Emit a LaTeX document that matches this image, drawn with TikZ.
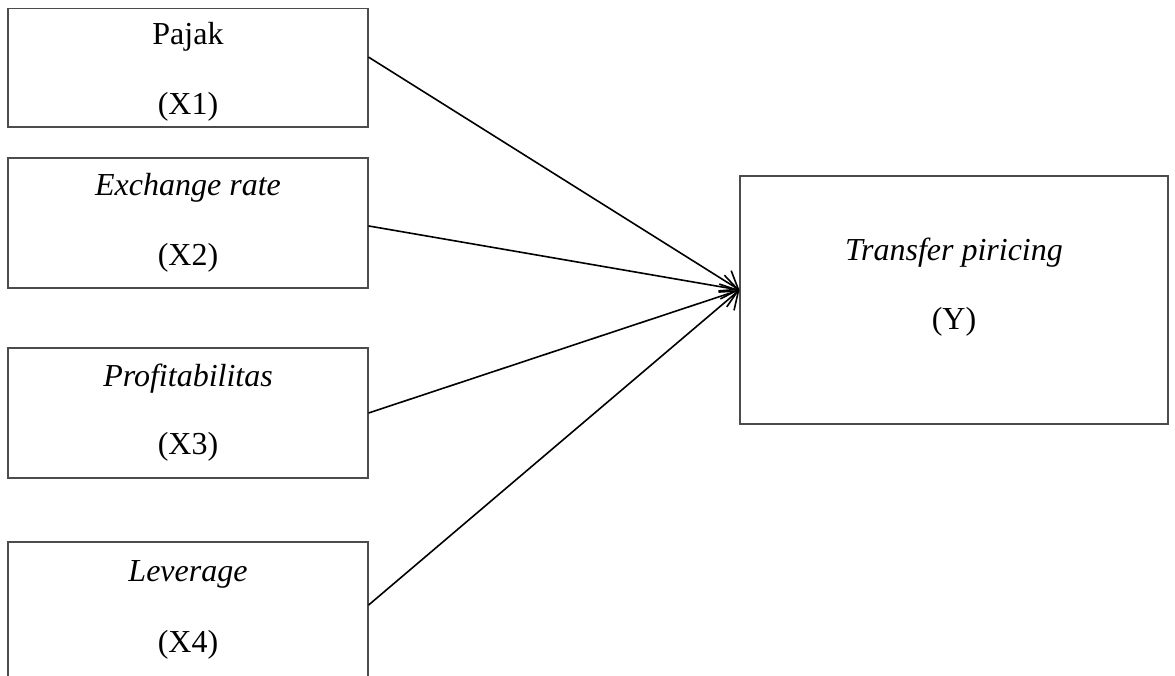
\documentclass[tikz,border=0pt]{standalone}
\usepackage{fontspec}
\setmainfont{Liberation Serif}
\usetikzlibrary{arrows.meta}
\tikzset{>={Straight Barb[length=6pt,width=9pt]}}
\tikzstyle{var box}=[draw=black!70,line width=0.4pt,rectangle,inner sep=0pt,minimum width=135pt]
\tikzstyle{var text}=[font=\fontsize{12}{14}\selectfont,inner sep=0pt]
\tikzstyle{path}=[->,line width=0.6pt,black]

\begin{document}
\begin{tikzpicture}[x=0.375pt,y=-0.375pt]
  \useasboundingbox (0,0) rectangle (1175,675);
  % independent variables
  \node[var box,minimum height=44.6pt] (x1) at (188,67.5) {};
  \node[var box,minimum height=48.75pt] (x2) at (188,223) {};
  \node[var box,minimum height=48.75pt] (x3) at (188,413) {};
  \node[var box,minimum height=52.5pt] (x4) at (188,612) {};
  \node[var text] (x1-name) at (188,37) {Pajak};
  \node[var text] (x1-code) at (188,107) {(X1)};
  \node[var text] (x2-name) at (188,188) {\itshape Exchange rate};
  \node[var text] (x2-code) at (188,258) {(X2)};
  \node[var text] (x3-name) at (188,379) {\itshape Profitabilitas};
  \node[var text] (x3-code) at (188,447) {(X3)};
  \node[var text] (x4-name) at (188,574) {\itshape Leverage};
  \node[var text] (x4-code) at (188,645) {(X4)};
  % dependent variable
  \node[var box,minimum width=160.5pt,minimum height=93pt] (y) at (954,300) {};
  \node[var text] (y-name) at (954,253) {\itshape Transfer piricing};
  \node[var text] (y-code) at (954,322) {(Y)};
  \coordinate (tip) at ([yshift=3.75pt]y.west);
  \draw[path] ([yshift=3.9pt]x1.east) -- (tip);
  \draw[path] ([yshift=-1.1pt]x2.east) -- (tip);
  \draw[path] (x3.east) -- (tip);
  \draw[path] ([yshift=2.6pt]x4.east) -- (tip);
\end{tikzpicture}
\end{document}
